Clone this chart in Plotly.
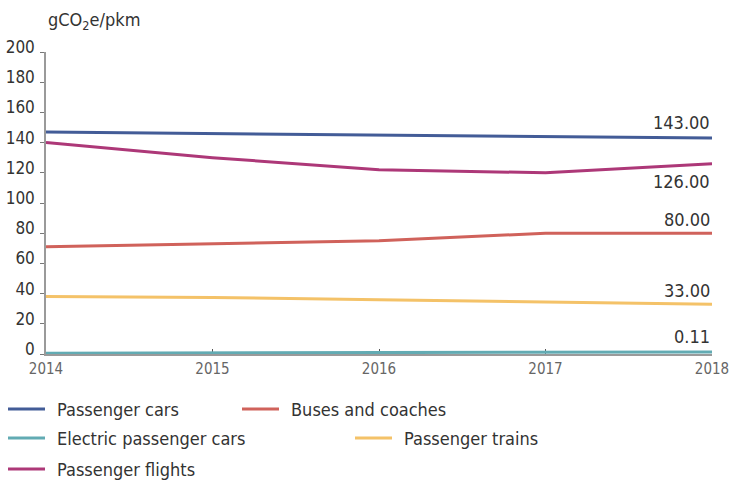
import plotly.graph_objects as go

years = [2014, 2015, 2016, 2017, 2018]
passenger_cars = [147, 146, 145, 144, 143]
buses_coaches = [71, 73, 75, 80, 80]
electric_cars = [0.5, 0.8, 1.0, 1.2, 1.4]
passenger_trains = [38, 37.5, 36, 34.5, 33]
passenger_flights = [140, 130, 122, 120, 126]
end_labels = ["143.00", "80.00", "0.11", "33.00", "126.00"]
y_ticks = [0, 20, 40, 60, 80, 100, 120, 140, 160, 180, 200]

series = [
    ("Passenger cars", passenger_cars, "#435c97"),
    ("Buses and coaches", buses_coaches, "#d0625b"),
    ("Electric passenger cars", electric_cars, "#62abb3"),
    ("Passenger trains", passenger_trains, "#f4c268"),
    ("Passenger flights", passenger_flights, "#ad3878"),
]
label_shift = [16, 14, 15, 14, -18]
# legend placement in pixels: (line start x, row centre y)
legend_pos = [(8, 409), (242, 409), (8, 438), (355, 438), (8, 469)]

FONT = "DejaVu Sans Condensed, Roboto, sans-serif"
W, H = 730, 481
L, R, T, B = 46, 18, 52, 127
PW, PH = W - L - R, H - T - B


def px_x(px):
    return (px - L) / PW


def px_y(py):
    return (H - B - py) / PH


fig = go.Figure()
for name, vals, color in series:
    fig.add_trace(go.Scatter(x=years, y=vals, name=name, mode="lines",
                             line=dict(color=color, width=3), showlegend=False))

for (name, vals, color), txt, sh in zip(series, end_labels, label_shift):
    fig.add_annotation(x=years[-1], y=vals[-1], text=txt, showarrow=False,
                       xanchor="right", yanchor="middle", yshift=sh,
                       font=dict(size=18, color="#333333", family=FONT))

# manual legend
for (name, vals, color), (lx, ly) in zip(series, legend_pos):
    fig.add_shape(type="line", xref="paper", yref="paper",
                  x0=px_x(lx), x1=px_x(lx + 37), y0=px_y(ly), y1=px_y(ly),
                  line=dict(color=color, width=3))
    fig.add_annotation(xref="paper", yref="paper", x=px_x(lx + 47), y=px_y(ly),
                       text=name, showarrow=False, xanchor="left", yanchor="middle",
                       font=dict(size=18, color="#333333", family=FONT))

fig.add_annotation(x=px_x(46), y=px_y(21), xref="paper", yref="paper",
                   text="gCO<sub>2</sub>e/pkm", showarrow=False,
                   xanchor="left", yanchor="middle",
                   font=dict(size=18, color="#333333", family=FONT))

fig.update_layout(
    width=W, height=H,
    margin=dict(l=L, r=R, t=T, b=B, autoexpand=False),
    paper_bgcolor="white", plot_bgcolor="white",
    font=dict(family=FONT),
    showlegend=False,
    xaxis=dict(range=[2014, 2018], tickvals=years, ticks="inside", ticklen=5,
               tickcolor="#555555", showline=True, linecolor="#9a9a9a", linewidth=1.5,
               showgrid=False, zeroline=False, layer="below traces", automargin=False,
               tickfont=dict(size=15, color="#666666", family=FONT)),
    yaxis=dict(range=[0, 200], tickvals=y_ticks, ticks="outside", ticklen=4,
               tickcolor="#777777", showline=True, linecolor="#9a9a9a", linewidth=1.5,
               showgrid=False, zeroline=False, ticklabelshift=-5, ticklabelstandoff=2,
               automargin=False,
               tickfont=dict(size=17, color="#333333", family=FONT)),
)

fig.write_html("out.html")
